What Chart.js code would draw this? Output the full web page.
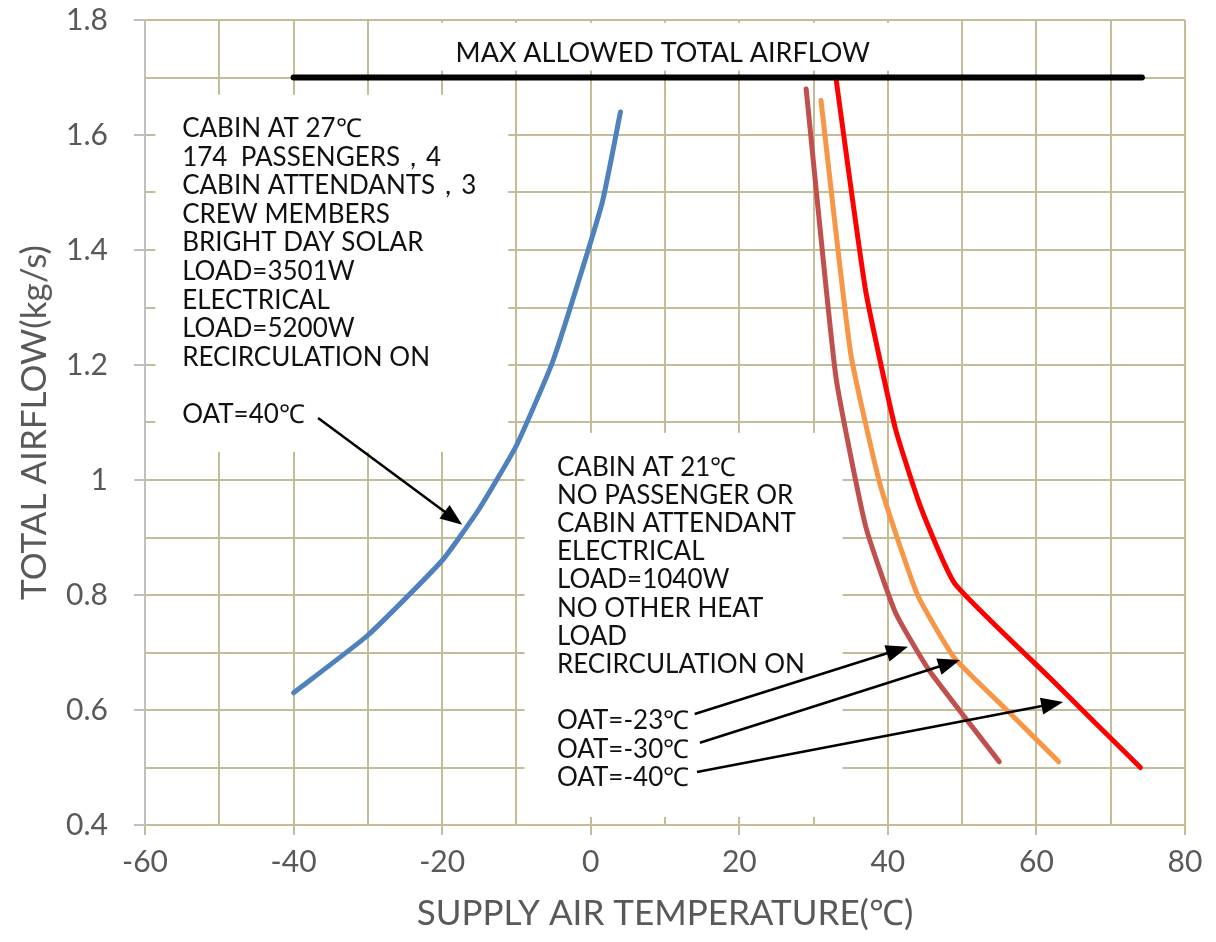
<!DOCTYPE html>
<html>
<head>
<meta charset="utf-8">
<script src="https://cdn.jsdelivr.net/npm/chart.js@4.4.1/dist/chart.umd.min.js"></script>
<style>
  html, body { margin: 0; padding: 0; background: #fff; }
  #wrap { width: 1216px; height: 942px; position: relative; }
</style>
</head>
<body>
<div id="wrap"><canvas id="chart"></canvas></div>
<script>
// supply air temperature (°C) vs total airflow (kg/s)
const oat40Temp = [-40, -30, -20, -15, -10, -5, 1.5, 4];
const oat40Flow = [0.63, 0.73, 0.86, 0.95, 1.06, 1.21, 1.48, 1.64];

const oatM23Temp = [29, 33, 37, 41, 45.5, 55];
const oatM23Flow = [1.68, 1.18, 0.92, 0.77, 0.67, 0.51];

const oatM30Temp = [31, 35, 39, 44, 49, 56, 63];
const oatM30Flow = [1.66, 1.22, 0.99, 0.80, 0.69, 0.60, 0.51];

const oatM40Temp = [33, 37, 41, 44.5, 49, 61.8, 74];
const oatM40Flow = [1.70, 1.33, 1.09, 0.95, 0.82, 0.656, 0.50];

const maxFlowTemp = [-40, 74.2];
const maxFlowValue = [1.7, 1.7];

const hotNote = ['CABIN AT 27℃', '174  PASSENGERS，4', 'CABIN ATTENDANTS，3', 'CREW MEMBERS',
  'BRIGHT DAY SOLAR', 'LOAD=3501W', 'ELECTRICAL', 'LOAD=5200W', 'RECIRCULATION ON', '', 'OAT=40℃'];
const coldNote = ['CABIN AT 21℃', 'NO PASSENGER OR', 'CABIN ATTENDANT', 'ELECTRICAL', 'LOAD=1040W',
  'NO OTHER HEAT', 'LOAD', 'RECIRCULATION ON', '', 'OAT=-23℃', 'OAT=-30℃', 'OAT=-40℃'];
const maxNote = 'MAX ALLOWED TOTAL AIRFLOW';

// annotation anchors in data units: [x, y]
const hotNoteAt = [-55.0, 1.613];
const coldNoteAt = [-4.55, 1.024];
const maxNoteAt = [9.7, 1.744];
// white boxes behind the notes: [xMin, xMax, yMax, yMin]
const noteBoxes = [[-58.6, -11.1, 1.670, 1.049], [-8.9, 33.9, 1.082, 0.414], [-25.5, 44.5, 1.795, 1.712]];
// arrows: [fromX, fromY, toX, toY]
const arrows = [
  [-36.7, 1.108, -17.3, 0.922],
  [14.0, 0.593, 42.7, 0.710],
  [14.7, 0.543, 49.7, 0.687],
  [14.3, 0.492, 63.6, 0.614],
];

const gridColor = '#c4bc96';
const axisGrey = '#bfbfbf';
const labelGrey = '#595959';
const clear = 'rgba(0,0,0,0)';

const pts = (xs, ys) => xs.map((v, i) => ({ x: v, y: ys[i] }));

const curve = (data, color, width) => ({
  data,
  borderColor: color,
  borderWidth: width,
  showLine: true,
  pointRadius: 0,
  tension: 0.15,
  borderCapStyle: 'round',
  borderJoinStyle: 'round',
});

const notes = {
  id: 'notes',
  beforeDatasetsDraw(chart) {
    const { ctx, scales: { x, y } } = chart;
    ctx.save();
    ctx.fillStyle = '#fff';
    noteBoxes.forEach(b => {
      const l = x.getPixelForValue(b[0]);
      const r = x.getPixelForValue(b[1]);
      const t = y.getPixelForValue(b[2]);
      const btm = y.getPixelForValue(b[3]);
      ctx.fillRect(l, t, r - l, btm - t);
    });
    ctx.restore();
  },
  afterDatasetsDraw(chart) {
    const { ctx, scales: { x, y } } = chart;
    ctx.save();
    ctx.fillStyle = '#111';
    ctx.textBaseline = 'middle';

    ctx.font = '26px Lato';
    ctx.textAlign = 'left';
    const block = (lines, at, lh) => {
      const px = x.getPixelForValue(at[0]);
      const py = y.getPixelForValue(at[1]);
      lines.forEach((s, i) => ctx.fillText(s, px, py + 1 + i * lh));
    };
    block(hotNote, hotNoteAt, 28.6);
    block(coldNote, coldNoteAt, 28.2);

    ctx.font = '27px Lato';
    ctx.textAlign = 'center';
    ctx.fillText(maxNote, x.getPixelForValue(maxNoteAt[0]), y.getPixelForValue(maxNoteAt[1]) + 1);

    ctx.strokeStyle = '#000';
    ctx.fillStyle = '#000';
    ctx.lineWidth = 2.5;
    arrows.forEach(a => {
      const x1 = x.getPixelForValue(a[0]), y1 = y.getPixelForValue(a[1]);
      const x2 = x.getPixelForValue(a[2]), y2 = y.getPixelForValue(a[3]);
      const ang = Math.atan2(y2 - y1, x2 - x1);
      const head = 22, half = 8.5;
      ctx.beginPath();
      ctx.moveTo(x1, y1);
      ctx.lineTo(x2 - Math.cos(ang) * head * 0.8, y2 - Math.sin(ang) * head * 0.8);
      ctx.stroke();
      ctx.beginPath();
      ctx.moveTo(x2, y2);
      ctx.lineTo(x2 - Math.cos(ang) * head - Math.sin(ang) * half, y2 - Math.sin(ang) * head + Math.cos(ang) * half);
      ctx.lineTo(x2 - Math.cos(ang) * head + Math.sin(ang) * half, y2 - Math.sin(ang) * head - Math.cos(ang) * half);
      ctx.closePath();
      ctx.fill();
    });
    ctx.restore();
  },
};

new Chart(document.getElementById('chart'), {
  type: 'scatter',
  data: {
    datasets: [
      curve(pts(maxFlowTemp, maxFlowValue), '#000000', 6),
      curve(pts(oat40Temp, oat40Flow), '#4f81bd', 5),
      curve(pts(oatM23Temp, oatM23Flow), '#c0504d', 5),
      curve(pts(oatM30Temp, oatM30Flow), '#f79646', 5),
      curve(pts(oatM40Temp, oatM40Flow), '#ff0000', 5),
    ],
  },
  options: {
    responsive: true,
    maintainAspectRatio: false,
    animation: false,
    layout: { padding: { top: 20, right: 31, left: 0, bottom: 0 } },
    plugins: {
      legend: { display: false },
      tooltip: { enabled: false },
    },
    scales: {
      x: {
        type: 'linear',
        min: -60,
        max: 80,
        afterFit: s => { s.height = 117; },
        ticks: {
          stepSize: 10,
          autoSkip: false,
          maxRotation: 0,
          padding: 9,
          color: labelGrey,
          font: { family: 'Lato', size: 30 },
          callback: v => (v % 20 === 0 ? String(v) : ''),
        },
        grid: {
          lineWidth: 2,
          tickLength: 10,
          color: c => (c.tick && c.tick.value === -60 ? clear : gridColor),
          tickColor: c => (c.tick && c.tick.value % 20 === 0 ? gridColor : clear),
        },
        border: { color: gridColor, width: 2 },
        title: {
          display: true,
          text: 'SUPPLY AIR TEMPERATURE(℃)',
          color: labelGrey,
          font: { family: 'Lato', size: 35, weight: 'normal' },
          padding: { top: 7, bottom: 7 },
        },
      },
      y: {
        type: 'linear',
        min: 0.4,
        max: 1.8,
        afterFit: s => {
          s.width = 145;
          s.paddingTop = 0;
          s.paddingBottom = 0;
        },
        ticks: {
          stepSize: 0.1,
          autoSkip: false,
          padding: 26,
          color: labelGrey,
          font: { family: 'Lato', size: 30 },
          callback: v => {
            const t = Math.round(v * 10);
            return t % 2 === 0 ? String(t / 10) : '';
          },
        },
        grid: {
          lineWidth: 2,
          tickLength: 11,
          color: gridColor,
          tickColor: c => (c.tick && Math.round(c.tick.value * 10) % 2 === 0 ? axisGrey : clear),
        },
        border: { color: axisGrey, width: 2 },
        title: {
          display: true,
          text: 'TOTAL AIRFLOW(kg/s)',
          color: labelGrey,
          font: { family: 'Lato', size: 35, weight: 'normal' },
          padding: { top: 14, bottom: 14 },
        },
      },
    },
  },
  plugins: [notes],
});
</script>
</body>
</html>
